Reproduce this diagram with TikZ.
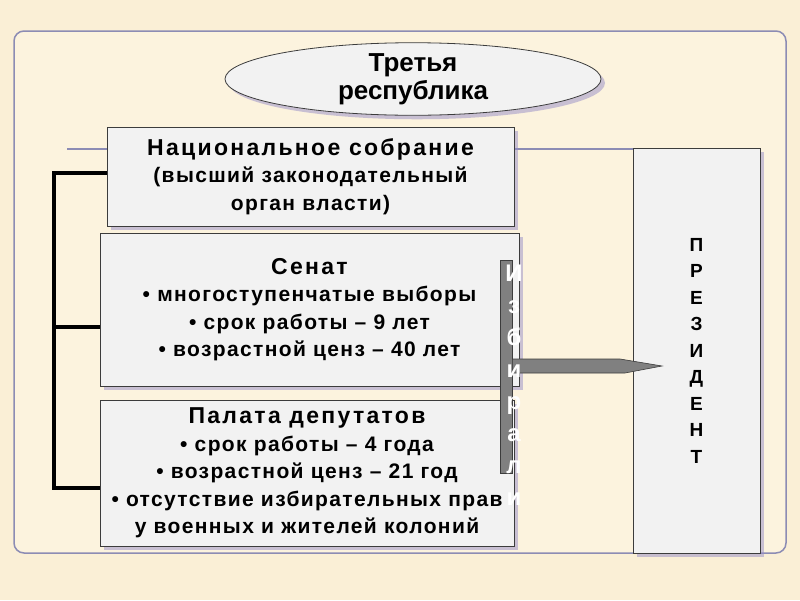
\documentclass[tikz,border=0pt]{standalone}
\usepackage{fontspec}
\setmainfont{Liberation Sans}
\newfontfamily\spacedtitle[LetterSpace=10]{Liberation Sans}
\newfontfamily\spacedbody[LetterSpace=6.5]{Liberation Sans}
\usetikzlibrary{shapes.geometric,shadows}
\definecolor{bg}{RGB}{250,239,214}
\definecolor{inbg}{RGB}{252,243,222}
\definecolor{boxfill}{RGB}{242,242,242}
\definecolor{framec}{RGB}{140,140,180}
\definecolor{shadowc}{RGB}{150,140,200}
\definecolor{arrowg}{RGB}{128,128,128}
\definecolor{edgec}{RGB}{60,60,60}
\newcommand{\boxtitle}[1]{{\spacedtitle\bfseries\fontsize{23}{27}\selectfont #1}}
\tikzset{
  shad/.style={drop shadow={shadow xshift=4pt, shadow yshift=-4pt, fill=shadowc, opacity=0.5}},
  orgbox/.style={draw=edgec, line width=0.8pt, fill=boxfill, shad, align=center, inner sep=0pt, font=\spacedbody\bfseries\fontsize{21}{27.5}\selectfont},
  bracket/.style={line width=4pt, black},
  bluline/.style={line width=2pt, framec},
  arrowshape/.style={fill=arrowg, draw=edgec, line width=0.6pt, line join=miter}
}
\begin{document}
\begin{tikzpicture}[x=1pt,y=-1pt]
\fill[bg] (0,0) rectangle (800,600);
\useasboundingbox (0,0) rectangle (800,600);
% frame
\draw[framec, line width=1.5pt, fill=inbg, rounded corners=10pt] (14,31) rectangle (786,553);
% ellipse
\node[ellipse, draw=edgec, line width=0.8pt, fill=boxfill, shad, minimum width=376pt, minimum height=72pt, inner sep=0pt, align=center, font=\bfseries\fontsize{26}{28}\selectfont] (rep) at (413,79) {Третья\\республика};
% president
\coordinate (bl) at (67,149);
\node[draw=edgec, line width=0.8pt, fill=boxfill, shad, minimum width=127pt, minimum height=405pt, inner sep=0pt, align=center, font=\bfseries\fontsize{19}{26.5}\selectfont] (pres) at (696.5,350.5) {П\\Р\\Е\\З\\И\\Д\\Е\\Н\\Т};
\draw[bluline] (bl) -- (pres.west |- bl);
% boxes
\node[orgbox, minimum width=407pt, minimum height=99pt] (nat) at (310.5,176.5)
  {\boxtitle{Национальное собрание}\\(высший законодательный\\орган власти)};
\node[orgbox, minimum width=419pt, minimum height=153pt] (sen) at (309.5,309.5)
  {\boxtitle{Сенат}\\• многоступенчатые выборы\\• срок работы – 9 лет\\• возрастной ценз – 40 лет};
\node[orgbox, minimum width=414pt, minimum height=146pt] (dep) at (307,473)
  {\boxtitle{Палата депутатов}\\• срок работы – 4 года\\• возрастной ценз – 21 год\\• отсутствие избирательных прав\\у военных и жителей колоний};
% bracket
\coordinate (sp1) at (54,173);
\coordinate (sp2) at (54,327);
\coordinate (sp3) at (54,488);
\draw[bracket] (nat.west |- sp1) -- (sp1) -- (sp3) -- (dep.west |- sp3);
\draw[bracket] (sp2) -- (sen.west |- sp2);
% bar and arrow
\node[fill=arrowg, draw=edgec, line width=0.6pt, minimum width=12pt, minimum height=213pt, inner sep=0pt] (bar) at (506,366.5) {};
\coordinate (tip) at (662,366);
\draw[arrowshape] (bar.east |- 0,359) -- (620,359) -- (tip) -- (625,373) -- (bar.east |- 0,373) -- cycle;
\node[white, align=center, inner sep=0pt, font=\bfseries\fontsize{24}{32}\selectfont] (izb) at (514,385) {И\\з\\б\\и\\р\\а\\л\\и};
\end{tikzpicture}
\end{document}
